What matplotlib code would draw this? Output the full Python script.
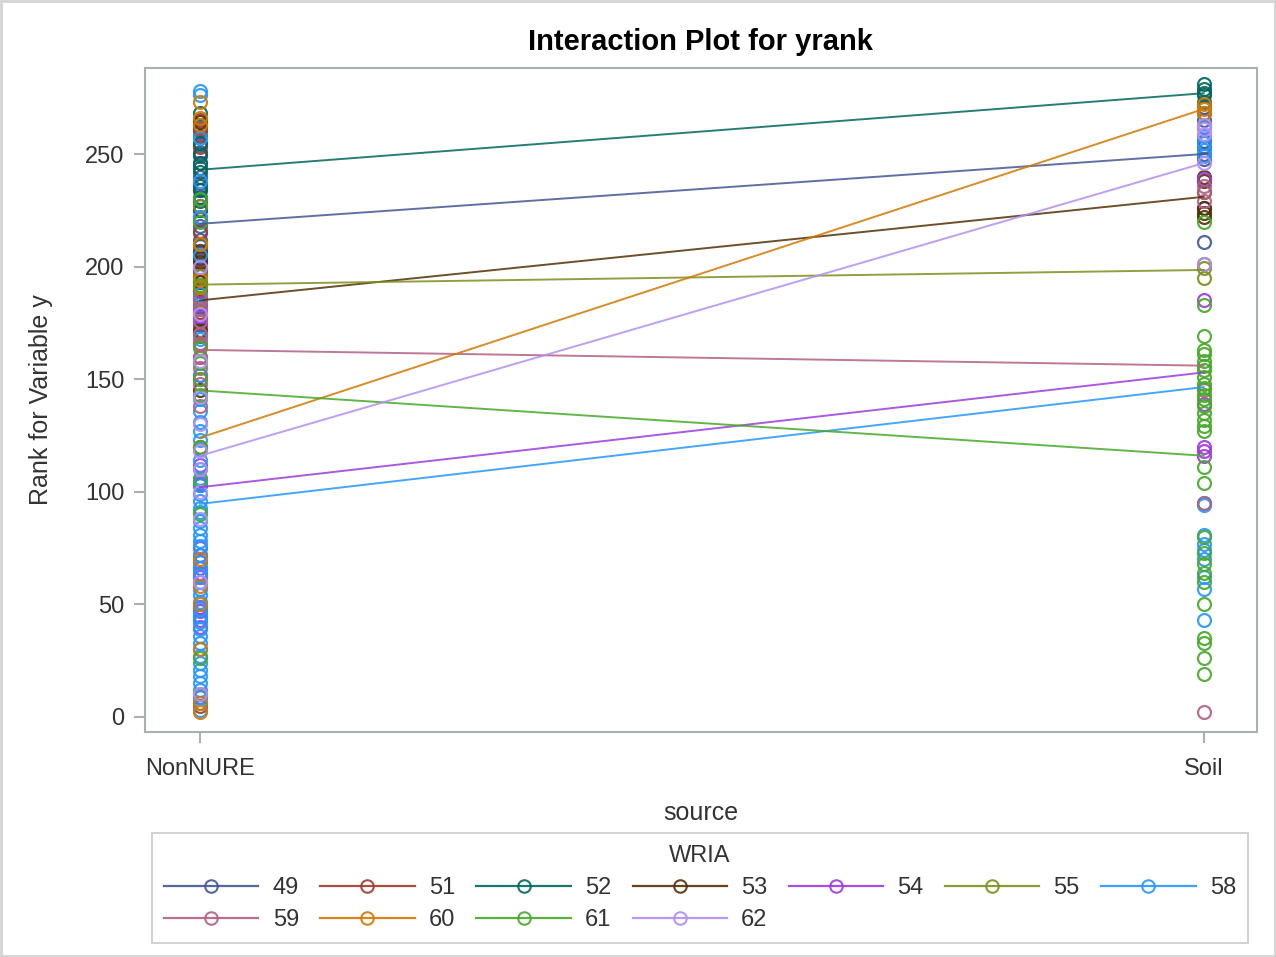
import matplotlib
matplotlib.use("Agg")
import matplotlib.pyplot as plt
from matplotlib.lines import Line2D
from matplotlib.patches import Rectangle

plt.rcParams['font.family'] = ['Liberation Sans', 'DejaVu Sans']

# ---- data -----------------------------------------------------------------
sources = ['NonNURE', 'Soil']
wria = ['49', '51', '52', '53', '54', '55', '58', '59', '60', '61', '62']
colors = ['#445694', '#A23A2E', '#01665E', '#543005', '#9D3CDB', '#7F8E1F',
          '#2597FA', '#B26084', '#D17800', '#47A82A', '#B38EF3']

# ranks observed at source = NonNURE
nonnure_49 = [262, 260, 258, 254, 251, 249, 246, 240, 237, 234, 231, 227, 225, 221, 218,
              215, 212, 209, 206, 203, 199, 196, 193, 189, 186, 182, 177, 174, 169]
nonnure_51 = [265, 261, 253, 216, 197, 180, 9, 5]
nonnure_52 = [268, 255, 250, 246, 244, 242, 236, 234, 229, 225]
nonnure_53 = [264, 207, 204, 202, 193, 190, 172, 171, 145, 103]
nonnure_54 = [222, 184, 178, 176, 160, 152, 120, 112, 104, 75, 72, 69, 66, 64, 62, 49, 47, 45, 43, 40]
nonnure_55 = [227, 210, 196, 191, 185, 170, 165]
nonnure_58 = [278, 276, 257, 238, 222, 205, 188, 168, 152, 141, 136, 131, 127, 123, 119, 114,
              110, 106, 103, 99, 96, 93, 91, 87, 84, 81, 78, 76, 72, 69, 66, 63, 60, 57, 54,
              51, 48, 45, 42, 39, 36, 33, 30, 27, 24, 21, 18, 15, 12, 9, 6, 3]
nonnure_59 = [186, 181, 176, 170, 166, 160, 155, 150, 148, 138]
nonnure_60 = [273, 266, 263, 210, 194, 191, 120, 70, 58, 50, 30, 10, 6, 2]
nonnure_61 = [230, 220, 192, 164, 157, 150, 143, 120, 105, 90, 26]
nonnure_62 = [200, 179, 158, 142, 130, 118, 110, 100, 88, 60, 10]

# ranks observed at source = Soil
soil_49 = [271, 268, 265, 262, 256, 253, 250, 248, 226, 211]
soil_51 = []
soil_52 = [281, 279, 277, 276, 273]
soil_53 = [240, 238, 233, 226, 224, 222]
soil_54 = [239, 185, 139, 120, 118, 116]
soil_55 = [201, 199.5, 195]
soil_58 = [268, 262, 258, 255, 252, 249, 95, 94, 81, 77, 74, 70, 62, 57, 43]
soil_59 = [236, 233, 229, 145, 95, 2]
soil_60 = [272, 270, 268]
soil_61 = [220, 183, 169, 163, 161, 158, 156, 154, 151, 148, 146, 143, 141, 138, 135, 132,
           129, 127, 111, 104, 80, 73, 68, 64, 60, 50, 35, 33, 26, 19]
soil_62 = [263, 261, 259, 246, 201]

# group means of the rank at each source (None: group absent at one source)
mean_nonnure = [219, None, 243, 185, 102, 192, 94.6, 163, 124, 145, 116]
mean_soil = [250, None, 277, 231, 153, 198.5, 146.5, 156, 270, 116, 246]

nonnure_ranks = [nonnure_49, nonnure_51, nonnure_52, nonnure_53, nonnure_54, nonnure_55,
                 nonnure_58, nonnure_59, nonnure_60, nonnure_61, nonnure_62]
soil_ranks = [soil_49, soil_51, soil_52, soil_53, soil_54, soil_55,
              soil_58, soil_59, soil_60, soil_61, soil_62]

# ---- figure ---------------------------------------------------------------
W, H = 1276, 957
fig = plt.figure(figsize=(W / 100, H / 100), dpi=100)
fig.patch.set_facecolor('white')
fig.patches.append(Rectangle((0.0008, 0.001), 0.9984, 0.998, transform=fig.transFigure,
                             fill=False, edgecolor='#d4d4d4', linewidth=2))

ax = fig.add_axes([145 / W, 1 - 732 / H, (1257 - 145) / W, (732 - 68) / H])

frame = '#a9b0b4'
text_col = '#333333'
msize = 9.3
mew = 1.6

for i, g in enumerate(wria):
    c = colors[i]
    for xi, ranks in enumerate([nonnure_ranks[i], soil_ranks[i]]):
        if ranks:
            ax.plot([xi] * len(ranks), ranks, linestyle='none', marker='o', markersize=msize,
                    markerfacecolor='none', markeredgecolor=c, markeredgewidth=mew,
                    alpha=0.9, zorder=3)

for i, g in enumerate(wria):
    if mean_nonnure[i] is not None and mean_soil[i] is not None:
        ax.plot([0, 1], [mean_nonnure[i], mean_soil[i]], color=colors[i], linewidth=1.4,
                alpha=0.85, zorder=4)

ax.set_xlim(-0.0548, 1.053)
ax.set_ylim(-6.7, 288.2)
ax.set_xticks([0, 1])
ax.set_xticklabels(sources)
ax.set_yticks([0, 50, 100, 150, 200, 250])

for sp in ax.spines.values():
    sp.set_color(frame)
    sp.set_linewidth(1.5)

ax.tick_params(axis='both', colors=frame, labelcolor=text_col, labelsize=17,
               length=8, width=1.5)
ax.tick_params(axis='x', pad=11)
ax.tick_params(axis='y', pad=7)

ax.set_xlabel('source', fontsize=18, color=text_col)
ax.xaxis.set_label_coords(0.5, -0.104)
ax.set_ylabel('Rank for Variable y', fontsize=18, color=text_col)
ax.yaxis.set_label_coords(-0.083, 0.5)

fig.text(700 / W, 1 - 42 / H, 'Interaction Plot for yrank', fontsize=21,
         fontweight='bold', ha='center', va='center', color='black')

# legend, filled row by row
handles = {g: Line2D([], [], color=colors[i], linewidth=1.6, marker='o', markersize=9,
                     markerfacecolor='none', markeredgecolor=colors[i],
                     markeredgewidth=1.5, alpha=0.9)
           for i, g in enumerate(wria)}
order = ['49', '59', '51', '60', '52', '61', '53', '62', '54', '55', '58']
leg = fig.legend([handles[g] for g in order], order, loc='center',
                 bbox_to_anchor=(700 / W, 1 - 888 / H), ncol=7, fontsize=17,
                 title='WRIA', title_fontsize=17, frameon=True, fancybox=False,
                 edgecolor='#c8c8c8', handlelength=4.0, handletextpad=0.6,
                 columnspacing=0.9, labelspacing=0.42, borderpad=0.5)
leg.get_frame().set_linewidth(1.5)
for t in leg.get_texts():
    t.set_color(text_col)
leg.get_title().set_color(text_col)

fig.savefig('out.png', dpi=100)
